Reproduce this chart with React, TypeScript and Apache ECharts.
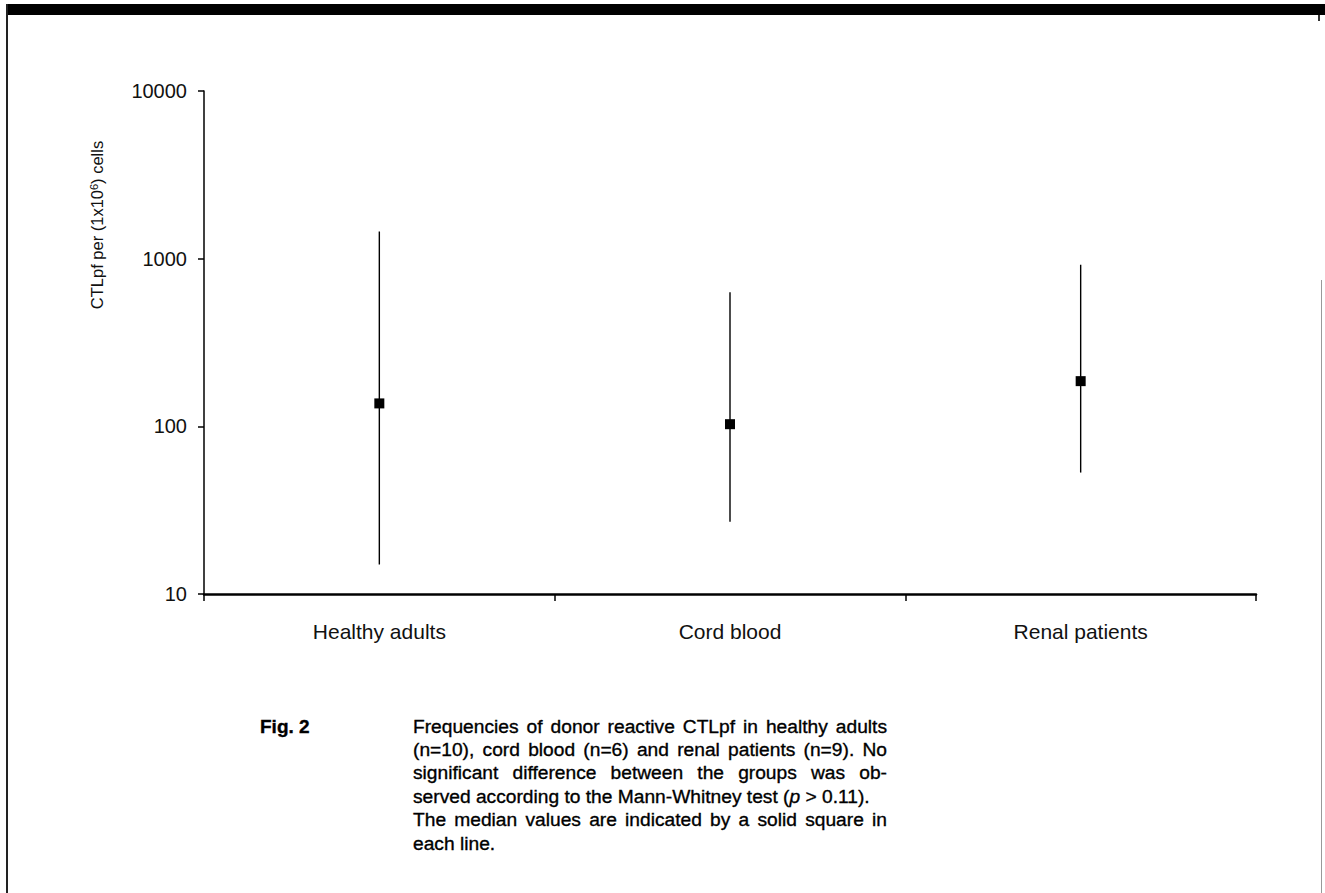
import React, { useEffect, useRef } from "react";
import * as echarts from "echarts";

const categories = ["Healthy adults", "Cord blood", "Renal patients"];
const maxValues = [1450, 630, 920];
const minValues = [15, 27, 53];
const medianValues = [137, 103, 186];
const yMin = 10;
const yMax = 10000;

const captionLabel = "Fig. 2";
const captionLines = [
  "Frequencies of donor reactive CTLpf in healthy adults",
  "(n=10), cord blood (n=6) and renal patients (n=9). No",
  "significant difference between the groups was ob-",
  "served according to the Mann-Whitney test ({i|p} > 0.11).",
  "The median values are indicated by a solid square in",
  "each line.",
];
const justified = [true, true, true, false, true, false];

const FONT = '"Liberation Sans", Arial, Helvetica, sans-serif';

function captionElements() {
  const size = 19.2;
  const x0 = 413;
  const width = 474;
  const y0 = 726;
  const lh = 23.4;
  const canvas = document.createElement("canvas");
  const ctx = canvas.getContext("2d") as CanvasRenderingContext2D;
  ctx.font = `${size}px ${FONT}`;
  const base = {
    fontSize: size,
    fontFamily: FONT,
    fill: "#000",
    verticalAlign: "middle",
    stroke: "#000",
    lineWidth: 0.35,
  };
  const els: any[] = [];
  els.push({
    type: "text",
    x: 260,
    y: y0,
    style: { ...base, text: captionLabel, fontWeight: "bold", fontSize: 19 },
  });
  captionLines.forEach((line, li) => {
    const y = y0 + li * lh;
    if (!justified[li]) {
      els.push({
        type: "text",
        x: x0,
        y,
        style: {
          ...base,
          text: line,
          rich: {
            i: {
              fontSize: size,
              fontFamily: FONT,
              fontStyle: "italic",
              fill: "#000",
              stroke: "#000",
              lineWidth: 0.35,
            },
          },
        },
      });
      return;
    }
    const words = line.split(" ");
    const ws = words.map((w) => ctx.measureText(w).width);
    const total = ws.reduce((a, b) => a + b, 0);
    const gap = (width - total) / (words.length - 1);
    let x = x0;
    words.forEach((w, i) => {
      els.push({ type: "text", x, y, style: { ...base, text: w } });
      x += ws[i] + gap;
    });
  });
  return els;
}

export default function App() {
  const ref = useRef<HTMLDivElement>(null);
  useEffect(() => {
    if (!ref.current) return;
    const chart = echarts.init(ref.current, null, { renderer: "svg" });
    const option: any = {
      animation: false,
      backgroundColor: "#fff",
      grid: { left: 204, top: 91, right: 69, bottom: 299, containLabel: false },
      xAxis: {
        type: "category",
        data: categories,
        boundaryGap: true,
        axisLine: { show: true, lineStyle: { color: "#000", width: 2.5 } },
        axisTick: { show: true, length: 7, alignWithLabel: false, lineStyle: { color: "#000", width: 1.5 } },
        axisLabel: { margin: 27, fontSize: 21, fontFamily: FONT, color: "#111" },
        splitLine: { show: false },
      },
      yAxis: {
        type: "log",
        logBase: 10,
        min: yMin,
        max: yMax,
        axisLine: { show: true, lineStyle: { color: "#000", width: 1.5 } },
        axisTick: { show: true, length: 6, lineStyle: { color: "#000", width: 1.5 } },
        axisLabel: {
          margin: 17,
          fontSize: 20,
          fontFamily: FONT,
          color: "#111",
          formatter: (v: number) => String(Math.round(v)),
        },
        splitLine: { show: false },
        minorTick: { show: false },
      },
      series: [
        {
          type: "custom",
          renderItem: (params: any, api: any) => {
            const i = api.value(0);
            const lo = api.coord([i, api.value(1)]);
            const hi = api.coord([i, api.value(2)]);
            return {
              type: "line",
              shape: { x1: lo[0], y1: lo[1], x2: hi[0], y2: hi[1] },
              style: { stroke: "#000", lineWidth: 1.4 },
            };
          },
          encode: { x: 0, y: [1, 2] },
          data: categories.map((c, i) => [i, minValues[i], maxValues[i]]),
          z: 2,
        },
        {
          type: "scatter",
          data: medianValues,
          symbol: "rect",
          symbolSize: 10,
          itemStyle: { color: "#000", opacity: 1 },
          z: 3,
        },
      ],
      graphic: [
        { type: "rect", shape: { x: 7, y: 4, width: 1318, height: 11 }, style: { fill: "#000" } },
        { type: "rect", shape: { x: 6, y: 4, width: 2, height: 889 }, style: { fill: "#222" } },
        { type: "rect", shape: { x: 1321, y: 280, width: 1, height: 613 }, style: { fill: "#999" } },
        { type: "rect", shape: { x: 1318, y: 15, width: 2, height: 6 }, style: { fill: "#333" } },
        {
          type: "text",
          x: 97,
          y: 225,
          rotation: Math.PI / 2,
          style: {
            text: "CTLpf per (1x10{sup|6}) cells",
            fontSize: 16.5,
            fontFamily: FONT,
            fill: "#111",
            align: "center",
            verticalAlign: "middle",
            rich: {
              sup: { fontSize: 11, fontFamily: FONT, fill: "#111", verticalAlign: "top" },
            },
          },
        },
        ...captionElements(),
      ],
    };
    chart.setOption(option);
    return () => chart.dispose();
  }, []);
  return (
    <div
      ref={ref}
      style={{ position: "absolute", left: 0, top: 0, width: 1325, height: 893 }}
    />
  );
}
